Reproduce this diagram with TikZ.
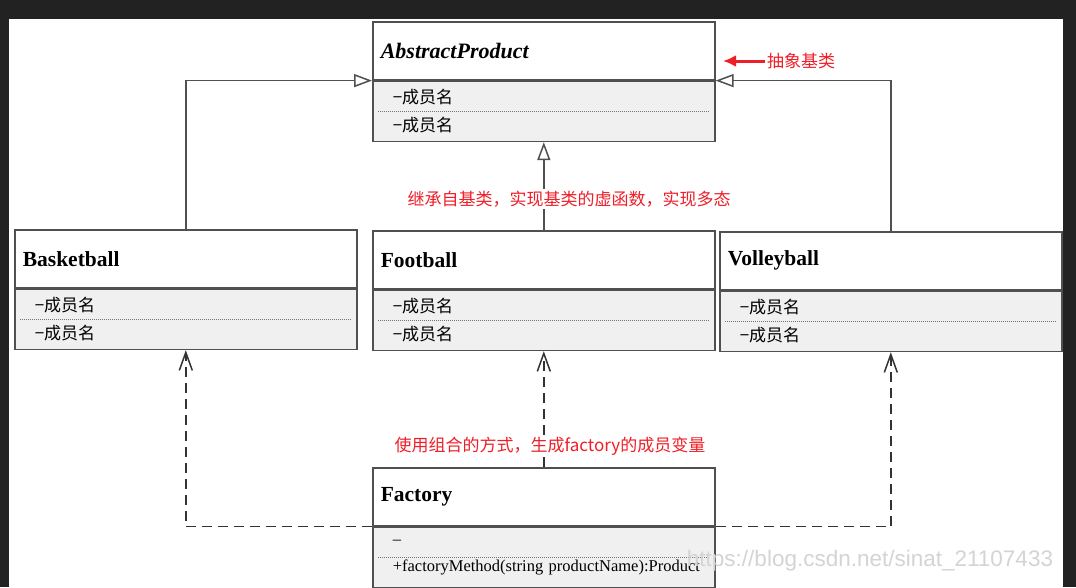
\documentclass[tikz,border=0pt]{standalone}
\usepackage{fontspec}
\setmainfont{Liberation Serif}
\newfontfamily\cjk{Noto Sans CJK SC}
\newfontfamily\wmfont{Liberation Sans}
\usetikzlibrary{arrows.meta,positioning,calc}
\definecolor{notered}{RGB}{240,30,40}
\definecolor{boxgray}{RGB}{80,80,80}
\definecolor{attrgray}{RGB}{240,240,240}
\definecolor{framegray}{RGB}{34,34,34}
\def\notered(#1){\textcolor{notered}{#1}}
\tikzset{
  classhead/.style={draw=boxgray, line width=1.6pt, fill=white, anchor=north west,
    minimum height=58pt, text width=326pt, inner xsep=8pt, inner ysep=0pt, align=left,
    font=\fontsize{21.5}{25}\selectfont\bfseries},
  classattr/.style={draw=boxgray, line width=1.6pt, fill=attrgray, anchor=north west,
    minimum height=60pt, text width=302pt, inner xsep=20pt, inner ysep=0pt, align=left,
    font=\cjk\fontsize{17}{28}\selectfont},
  dotsep/.style={draw=black!55, line width=1.2pt, dash pattern=on 1pt off 1pt},
  inherit/.style={draw=boxgray, line width=1.5pt, -{Triangle[open,length=18pt,width=13pt,fill=white]}},
  depend/.style={draw=black!80, line width=1.5pt, dash pattern=on 10pt off 6pt, -{Straight Barb[length=18pt,width=13pt]}},
  note/.style={fill=white, inner sep=2pt, font=\cjk\fontsize{17}{17}\selectfont},
}

\begin{document}
\begin{tikzpicture}[x=1pt,y=-1pt]
\useasboundingbox (0,0) rectangle (1076,587);
\fill[framegray] (0,0) rectangle (1076,587);
\fill[white] (8.5,19) rectangle (1063,587);
% classes
\node[classhead, font=\fontsize{22}{25}\selectfont\bfseries\itshape] (ap) at (372,21) {AbstractProduct};
\node[classattr] (apattr) at (ap.south west) {−成员名\\−成员名};
\node[classhead] (bb) at (14,229) {Basketball};
\node[classattr] (bbattr) at (bb.south west) {−成员名\\−成员名};
\node[classhead] (fb) at (372,230) {Football};
\node[classattr] (fbattr) at (fb.south west) {−成员名\\−成员名};
\node[classhead] (vb) at (719,231) {Volleyball};
\node[classattr] (vbattr) at (vb.south west) {−成员名\\−成员名};
\node[classhead] (fac) at (372,467) {Factory};
\node[classattr, font=\fontsize{16.5}{27}\selectfont] (facattr) at (fac.south west) {–\\\mbox{+factoryMethod(string productName):Product}};
\draw[dotsep] ([xshift=6pt]apattr.west) -- ([xshift=-6pt]apattr.east);
\draw[dotsep] ([xshift=6pt]bbattr.west) -- ([xshift=-6pt]bbattr.east);
\draw[dotsep] ([xshift=6pt]fbattr.west) -- ([xshift=-6pt]fbattr.east);
\draw[dotsep] ([xshift=6pt]vbattr.west) -- ([xshift=-6pt]vbattr.east);
\draw[dotsep] ([xshift=6pt]facattr.west) -- ([xshift=-6pt]facattr.east);
% inheritance
\draw[inherit] (bb.north) |- (ap.south west);
\draw[inherit] (vb.north) |- (ap.south east);
\draw[inherit] (fb.north) -- (apattr.south);
% composition
\draw[depend] (fac.south west) -| (bbattr.south);
\draw[depend] (fac.south east) -| (vbattr.south);
\draw[depend] (fac.north) -- (fbattr.south);
% notes
\node[note, anchor=west] (absnote) at (765,61) {\notered(抽象基类)};
\coordinate (abstip) at (723,61);
\draw[notered, line width=3pt, -{Latex[length=13pt,width=12pt]}] (absnote.west) -- (abstip);
\node[note] (inhnote) at (569,199) {\notered(继承自基类，实现基类的虚函数，实现多态)};
\node[note] (facnote) at (550,446) {\notered(使用组合的方式，生成factory的成员变量)};
\node[text=black!17, font=\wmfont\fontsize{22.5}{22}\selectfont] (wmark) at (870,561) {https://blog.csdn.net/sinat\_21107433};
\end{tikzpicture}
\end{document}
